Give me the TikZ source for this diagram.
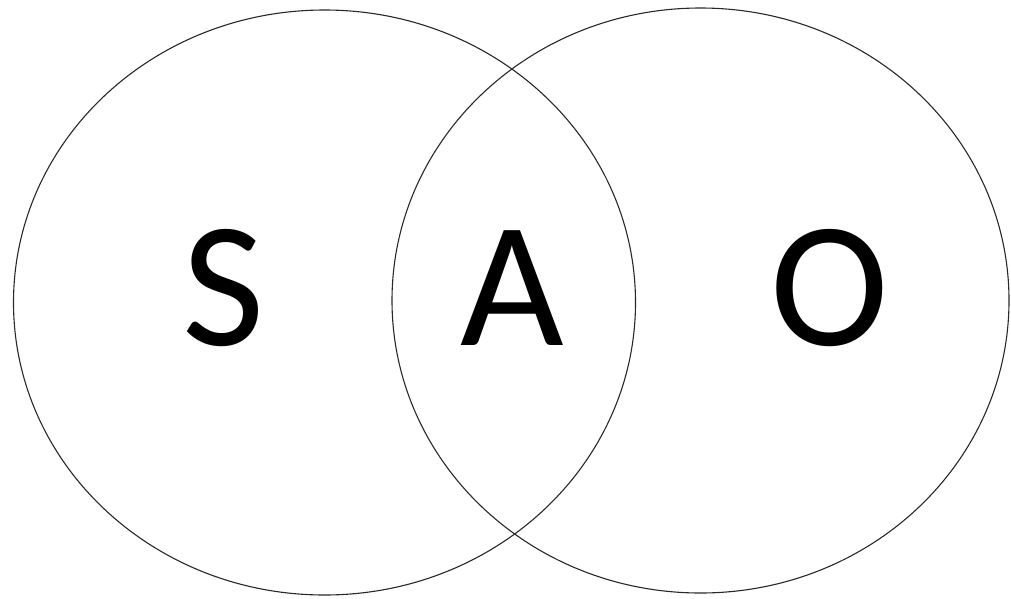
\documentclass[tikz,border=0pt]{standalone}
\usepackage{fontspec}
\setmainfont{Carlito}
\usepackage{tikz}
\definecolor{cLine}{RGB}{40,40,40}

\begin{document}
\begin{tikzpicture}[x=1pt,y=-1pt]
\useasboundingbox (0,0) rectangle (1011,598);
\draw[cLine,line width=1.1pt] (324.5,302.5) ellipse (311 and 292.5);
\draw[cLine,line width=1.1pt] (700.5,300.5) ellipse (308.5 and 292.5);
\node[anchor=base,inner sep=0pt,font=\fontsize{179}{179}\selectfont] (s) at (224,345) {S};
\node[anchor=base,inner sep=0pt,font=\fontsize{179}{179}\selectfont] (a) at (512,345) {A};
\node[anchor=base,inner sep=0pt,font=\fontsize{179}{179}\selectfont] (o) at (830,345) {O};
\end{tikzpicture}
\end{document}
